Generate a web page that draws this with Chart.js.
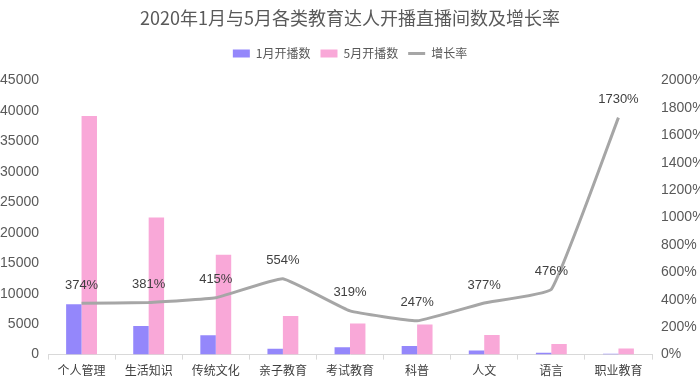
<!DOCTYPE html>
<html>
<head>
<meta charset="utf-8">
<script src="https://cdn.jsdelivr.net/npm/chart.js@4/dist/chart.umd.min.js"></script>
<style>
  html, body { margin: 0; padding: 0; background: #fff; }
  #wrap { width: 700px; height: 384px; position: relative; }
</style>
</head>
<body>
<div id="wrap"><canvas id="chart" width="700" height="384"></canvas></div>
<script>
// values
const categories = ['个人管理', '生活知识', '传统文化', '亲子教育', '考试教育', '科普', '人文', '语言', '职业教育'];
const janCounts = [8270, 4680, 3180, 970, 1220, 1430, 670, 300, 150];
const mayCounts = [39200, 22500, 16400, 6350, 5120, 4950, 3200, 1740, 1000];
const growthPct = [374, 381, 415, 554, 319, 247, 377, 476, 1730];
const leftTicks = [0, 5000, 10000, 15000, 20000, 25000, 30000, 35000, 40000, 45000];
const rightTicks = [0, 200, 400, 600, 800, 1000, 1200, 1400, 1600, 1800, 2000];

const FONT = "'Liberation Sans', 'Noto Sans CJK SC', sans-serif";
const CJK = "'Noto Sans CJK SC', 'Liberation Sans', sans-serif";

// percentage labels above the line points
const lineLabels = {
    id: 'lineLabels',
    afterDatasetsDraw(chart) {
        const meta = chart.getDatasetMeta(2);
        const ctx = chart.ctx;
        ctx.save();
        ctx.font = '13px ' + FONT;
        ctx.fillStyle = '#404040';
        ctx.textAlign = 'center';
        ctx.textBaseline = 'middle';
        meta.data.forEach((pt, i) => {
            ctx.fillText(growthPct[i] + '%', pt.x, pt.y - 18);
        });
        ctx.restore();
    }
};

// a bit more room under the legend
const legendGap = {
    id: 'legendGap',
    beforeInit(chart) {
        const fit = chart.legend.fit;
        chart.legend.fit = function () {
            fit.bind(chart.legend)();
            this.height += 11;
        };
    }
};

new Chart(document.getElementById('chart'), {
    type: 'bar',
    data: {
        labels: categories,
        datasets: [
            {
                label: '1月开播数',
                data: janCounts,
                backgroundColor: '#9487fb',
                borderWidth: 0,
                pointStyle: 'rect',
                yAxisID: 'y',
                order: 1,
                barPercentage: 1,
                categoryPercentage: 0.46
            },
            {
                label: '5月开播数',
                data: mayCounts,
                backgroundColor: '#f9a8d8',
                borderWidth: 0,
                pointStyle: 'rect',
                yAxisID: 'y',
                order: 1,
                barPercentage: 1,
                categoryPercentage: 0.46
            },
            {
                type: 'line',
                label: '增长率',
                data: growthPct,
                borderColor: '#a6a6a6',
                backgroundColor: '#a6a6a6',
                borderWidth: 3,
                pointRadius: 0,
                pointStyle: 'line',
                tension: 0.1,
                yAxisID: 'y1',
                order: 0
            }
        ]
    },
    options: {
        responsive: false,
        animation: false,
        layout: { padding: { top: 7, bottom: 2, left: 0, right: 0 } },
        plugins: {
            title: {
                display: true,
                text: '2020年1月与5月各类教育达人开播直播间数及增长率',
                color: '#595959',
                font: { family: CJK, size: 18, weight: 'normal' },
                padding: { top: 0, bottom: 9 }
            },
            legend: {
                display: true,
                position: 'top',
                labels: {
                    color: '#595959',
                    font: { family: CJK, size: 12 },
                    usePointStyle: true,
                    pointStyleWidth: 17,
                    boxWidth: 17,
                    boxHeight: 8,
                    padding: 10,
                    sort: (a, b) => a.datasetIndex - b.datasetIndex
                }
            },
            tooltip: { enabled: false }
        },
        scales: {
            x: {
                grid: {
                    display: true,
                    drawOnChartArea: false,
                    drawTicks: true,
                    tickLength: 5,
                    color: '#d9d9d9',
                    offset: true
                },
                border: { display: true, color: '#d9d9d9' },
                ticks: {
                    color: '#404040',
                    font: { family: CJK, size: 12 },
                    padding: 4,
                    maxRotation: 0
                }
            },
            y: {
                position: 'left',
                min: 0,
                max: 45000,
                afterBuildTicks: s => { s.ticks = leftTicks.map(v => ({ value: v })); },
                afterFit: s => { s.width = 48; },
                grid: { display: false, drawTicks: false },
                border: { display: false },
                ticks: {
                    color: '#595959',
                    font: { family: FONT, size: 14 },
                    padding: 9,
                    callback: v => String(v)
                }
            },
            y1: {
                position: 'right',
                min: 0,
                max: 2000,
                afterBuildTicks: s => { s.ticks = rightTicks.map(v => ({ value: v })); },
                afterFit: s => { s.width = 48; },
                grid: { display: false, drawTicks: false },
                border: { display: false },
                ticks: {
                    color: '#595959',
                    font: { family: FONT, size: 14 },
                    padding: 9,
                    callback: v => v + '%'
                }
            }
        }
    },
    plugins: [lineLabels, legendGap]
});
</script>
</body>
</html>
